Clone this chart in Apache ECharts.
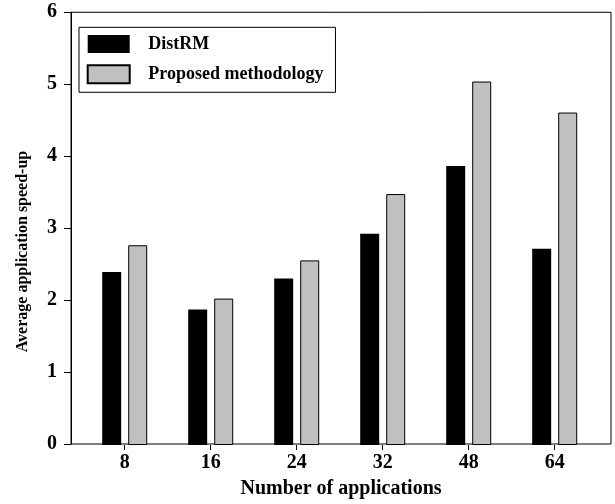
<!DOCTYPE html>
<html>
<head>
<meta charset="utf-8">
<script src="https://cdn.jsdelivr.net/npm/echarts@6/dist/echarts.min.js"></script>
<style>
html,body{margin:0;padding:0;background:#fff;}
#chart{width:615px;height:504px;}
</style>
</head>
<body>
<div id="chart"></div>
<script>
const categories = ['8', '16', '24', '32', '48', '64'];
const distRM = [2.40, 1.88, 2.31, 2.93, 3.87, 2.72];
const proposed = [2.77, 2.03, 2.56, 3.48, 5.04, 4.61];
const yTicks = [0, 1, 2, 3, 4, 5, 6];
const xName = 'Number of applications';
const yName = 'Average application speed-up';
const seriesNames = ['DistRM', 'Proposed methodology'];

const FONT = '"Liberation Serif", "Times New Roman", serif';
const chart = echarts.init(document.getElementById('chart'), null, {renderer: 'canvas'});

const option = {
  animation: false,
  backgroundColor: '#fff',
  grid: [
    {left: 71, right: 4, top: 12.3, bottom: 59, show: true, borderColor: '#000', borderWidth: 1, backgroundColor: 'transparent'},
    {left: 81.7, width: 516, top: 12.3, bottom: 59}
  ],
  xAxis: [
    {
      gridIndex: 0, type: 'value', min: 0, max: 1,
      axisLine: {show: false}, axisTick: {show: false}, axisLabel: {show: false}, splitLine: {show: false},
      name: xName, nameLocation: 'middle', nameGap: 35,
      nameTextStyle: {fontFamily: FONT, fontWeight: 'bold', fontSize: 20, color: '#000'}
    },
    {
      gridIndex: 1, type: 'category', data: categories, boundaryGap: true,
      axisLine: {show: false},
      axisTick: {show: true, alignWithLabel: true, length: 5, lineStyle: {color: '#000', width: 1}},
      axisLabel: {fontFamily: FONT, fontWeight: 'bold', fontSize: 20, color: '#000', margin: 8, interval: 0},
      splitLine: {show: false}
    }
  ],
  yAxis: [
    {
      gridIndex: 0, type: 'value', min: yTicks[0], max: yTicks[yTicks.length - 1], interval: 1,
      axisLine: {show: true, lineStyle: {color: '#000', width: 1}},
      axisTick: {show: true, inside: false, length: 7, lineStyle: {color: '#000', width: 1}},
      axisLabel: {fontFamily: FONT, fontWeight: 'bold', fontSize: 20, color: '#000', margin: 14},
      splitLine: {show: false}
    },
    {
      gridIndex: 1, type: 'value', min: yTicks[0], max: yTicks[yTicks.length - 1], interval: 1, show: false
    }
  ],
  legend: {
    orient: 'vertical',
    left: 79, top: 27.3,
    padding: [7.7, 12, 8, 7.7],
    itemWidth: 42, itemHeight: 18, itemGap: 11.3,
    icon: 'rect',
    borderColor: '#000', borderWidth: 1, backgroundColor: '#fff',
    textStyle: {fontFamily: FONT, fontWeight: 'bold', fontSize: 18, color: '#000', lineHeight: 18, padding: [0, 0, 0, 13.6]},
    data: seriesNames
  },
  graphic: [{
    type: 'text', x: 22.5, y: 251.5, rotation: Math.PI / 2,
    style: {text: yName, font: 'bold 16px ' + FONT, fill: '#000', align: 'center', verticalAlign: 'middle'}
  }],
  series: [
    {
      name: seriesNames[0], type: 'bar', xAxisIndex: 1, yAxisIndex: 1,
      data: distRM, barWidth: 19, barGap: '37%',
      itemStyle: {color: '#000', borderColor: '#000', borderWidth: 0}
    },
    {
      name: seriesNames[1], type: 'bar', xAxisIndex: 1, yAxisIndex: 1,
      data: proposed, barWidth: 19, barGap: '37%',
      itemStyle: {color: '#c0c0c0', borderColor: '#000', borderWidth: 1}
    }
  ]
};
chart.setOption(option);
</script>
</body>
</html>
